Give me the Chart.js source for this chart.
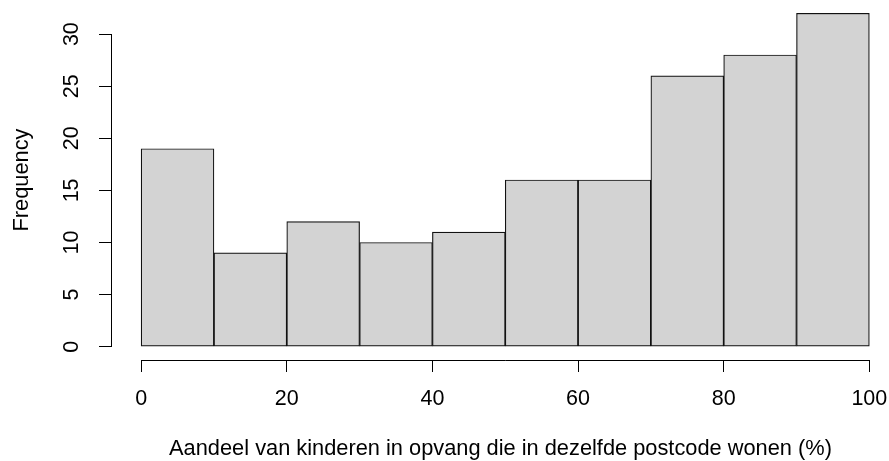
<!DOCTYPE html>
<html>
<head>
<meta charset="utf-8">
<style>
  body { margin: 0; background: #fff; }
  #wrap { width: 889px; height: 461px; position: relative; }
</style>
</head>
<body>
<div id="wrap">
  <canvas id="myChart"></canvas>
</div>

<script src="https://cdn.jsdelivr.net/npm/chart.js"></script>
<script>
  // histogram bins (left edges, width 10) and counts
  const binStart = [0, 10, 20, 30, 40, 50, 60, 70, 80, 90];
  const binWidth = 10;
  const counts = [19, 9, 12, 10, 11, 16, 16, 26, 28, 32];
  const xTicks = [0, 20, 40, 60, 80, 100];
  const yTicks = [0, 5, 10, 15, 20, 25, 30];

  const xTitle = 'Aandeel van kinderen in opvang die in dezelfde postcode wonen (%)';
  const yTitle = 'Frequency';

  const family = '"Liberation Sans", Arial, Helvetica, sans-serif';
  const font = { family: family, size: 21.5 };
  const titleFont = { family: family, size: 21.8, lineHeight: 1 };

  // R style axis lines: only from first to last tick
  const axisLines = {
    id: 'axisLines',
    afterDraw(chart) {
      const c = chart.ctx;
      const x = chart.scales.x, y = chart.scales.y;
      c.save();
      c.strokeStyle = '#000';
      c.lineWidth = 1;
      c.beginPath();
      const yb = Math.round(x.top) + 0.5;
      c.moveTo(x.getPixelForValue(xTicks[0]), yb);
      c.lineTo(x.getPixelForValue(xTicks[xTicks.length - 1]), yb);
      const xl = Math.round(y.right) - 0.5;
      c.moveTo(xl, y.getPixelForValue(yTicks[0]));
      c.lineTo(xl, y.getPixelForValue(yTicks[yTicks.length - 1]));
      c.stroke();
      c.restore();
    }
  };

  const ctx = document.getElementById('myChart');

  const myChart = new Chart(ctx, {
    type: 'bar',
    data: {
      datasets: [{
        label: yTitle,
        data: binStart.map((b, i) => ({ x: b + binWidth / 2, y: counts[i] })),
        backgroundColor: '#d3d3d3',
        borderColor: '#111',
        borderWidth: 1.2,
        borderSkipped: false,
        barPercentage: 1,
        categoryPercentage: 1
      }]
    },
    options: {
      responsive: true,
      maintainAspectRatio: false,
      animation: false,
      layout: { padding: 0 },
      plugins: {
        legend: { display: false },
        tooltip: { enabled: false }
      },
      scales: {
        x: {
          type: 'linear',
          min: -4,
          max: 102.7,
          offset: false,
          afterBuildTicks: s => { s.ticks = xTicks.map(v => ({ value: v })); },
          afterFit: s => { s.height = 101; s.paddingLeft = 0; s.paddingRight = 0; },
          border: { display: false },
          grid: { offset: false, drawOnChartArea: false, drawTicks: true, tickLength: 12, color: '#000', lineWidth: 1 },
          ticks: { color: '#000', font: font, padding: 14, maxRotation: 0, autoSkip: false },
          title: { display: true, text: xTitle, color: '#000', font: titleFont, padding: { top: 0, bottom: 1 } }
        },
        y: {
          type: 'linear',
          min: -1.28,
          max: 33.28,
          afterBuildTicks: s => { s.ticks = yTicks.map(v => ({ value: v })); },
          afterFit: s => { s.width = 112; s.paddingTop = 0; s.paddingBottom = 0; },
          border: { display: false },
          grid: { drawOnChartArea: false, drawTicks: true, tickLength: 13, color: '#000', lineWidth: 1 },
          ticks: { color: '#000', font: font, padding: 15, minRotation: 90, maxRotation: 90, crossAlign: 'center', autoSkip: false },
          title: { display: true, text: yTitle, color: '#000', font: titleFont, padding: { top: 11, bottom: 0 } }
        }
      }
    },
    plugins: [axisLines]
  });
</script>
</body>
</html>
